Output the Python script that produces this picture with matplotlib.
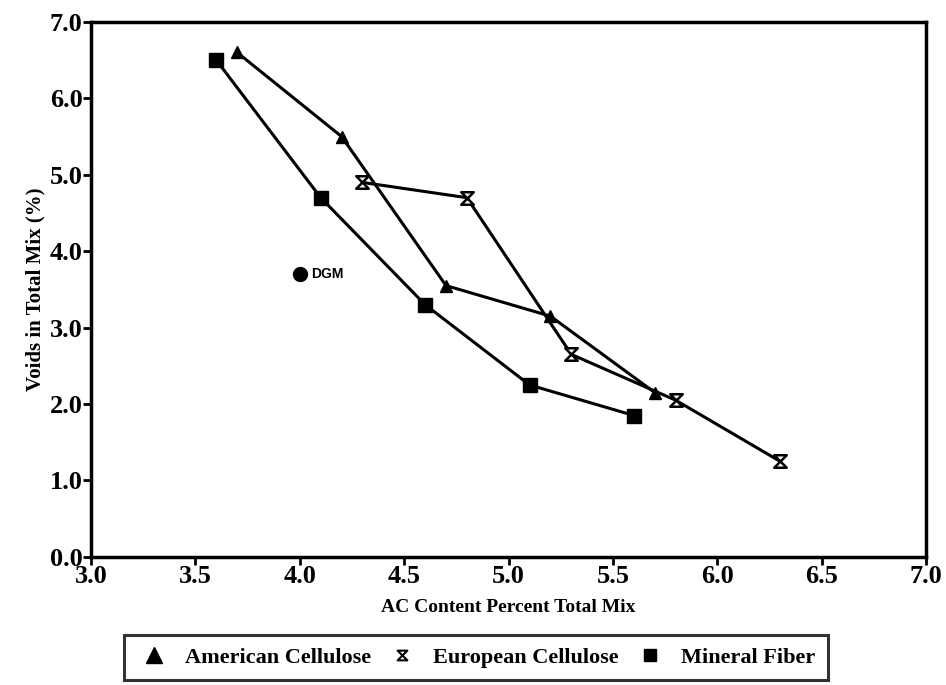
import matplotlib
matplotlib.use("Agg")
import matplotlib.pyplot as plt
from matplotlib.path import Path
from matplotlib.lines import Line2D

am_x = [3.7, 4.2, 4.7, 5.2, 5.7]
am_y = [6.6, 5.5, 3.55, 3.15, 2.15]
eu_x = [4.3, 4.8, 5.3, 5.8, 6.3]
eu_y = [4.9, 4.7, 2.65, 2.05, 1.25]
mf_x = [3.6, 4.1, 4.6, 5.1, 5.6]
mf_y = [6.5, 4.7, 3.3, 2.25, 1.85]
dgm_x = [4.0]
dgm_y = [3.7]
xticks = [3.0, 3.5, 4.0, 4.5, 5.0, 5.5, 6.0, 6.5, 7.0]
yticks = [0.0, 1.0, 2.0, 3.0, 4.0, 5.0, 6.0, 7.0]

serif = "Liberation Serif"
hourglass = Path([(-1, 1), (1, 1), (-1, -1), (1, -1), (-1, 1)],
                 [Path.MOVETO, Path.LINETO, Path.LINETO, Path.LINETO, Path.CLOSEPOLY])

fig = plt.figure(figsize=(9.46, 6.85), dpi=100)
ax = fig.add_axes([0.0962, 0.187, 0.883, 0.781])

ax.plot(am_x, am_y, color="black", lw=2.2, marker="^", ms=9, mfc="black", mec="black")
ax.plot(eu_x, eu_y, color="black", lw=2.2, marker=hourglass, ms=9, mfc="white", mec="black", mew=1.8)
ax.plot(mf_x, mf_y, color="black", lw=2.2, marker="s", ms=10, mfc="black", mec="black")
ax.plot(dgm_x, dgm_y, ls="none", marker="o", ms=10, color="black")
ax.annotate("DGM", (dgm_x[0], dgm_y[0]), xytext=(8, 0), textcoords="offset points",
            va="center", ha="left", fontsize=10, fontweight="bold", family="Liberation Sans")

ax.set_xlim(3.0, 7.0)
ax.set_ylim(0.0, 7.0)
ax.set_xticks(xticks)
ax.set_yticks(yticks)
ax.set_xticklabels([f"{v:.1f}" for v in xticks])
ax.set_yticklabels([f"{v:.1f}" for v in yticks])
for lab in ax.get_xticklabels() + ax.get_yticklabels():
    lab.set_family(serif)
    lab.set_fontweight("bold")
    lab.set_fontsize(19)
ax.tick_params(direction="out", length=6, width=2, pad=0)
for s in ax.spines.values():
    s.set_linewidth(2.5)

ax.set_xlabel("AC Content Percent Total Mix", family=serif, fontweight="bold", fontsize=14, labelpad=8)
ax.set_ylabel("Voids in Total Mix (%)", family=serif, fontweight="bold", fontsize=15, labelpad=3)

handles = [
    Line2D([], [], ls="none", marker="^", ms=11, color="black"),
    Line2D([], [], ls="none", marker=hourglass, ms=7, mfc="white", mec="black", mew=1.5),
    Line2D([], [], ls="none", marker="s", ms=9, color="black"),
]
leg = fig.legend(handles, ["American Cellulose", "European Cellulose", "Mineral Fiber"],
                 loc="center", bbox_to_anchor=(0.503, 0.04), ncol=3, frameon=True,
                 fancybox=False, edgecolor="black", handletextpad=0.6, columnspacing=0.6,
                 handlelength=1.6, borderpad=0.55, prop={"family": serif, "weight": "bold", "size": 16})
leg.get_frame().set_linewidth(2.2)

fig.savefig("out.png", dpi=100)
